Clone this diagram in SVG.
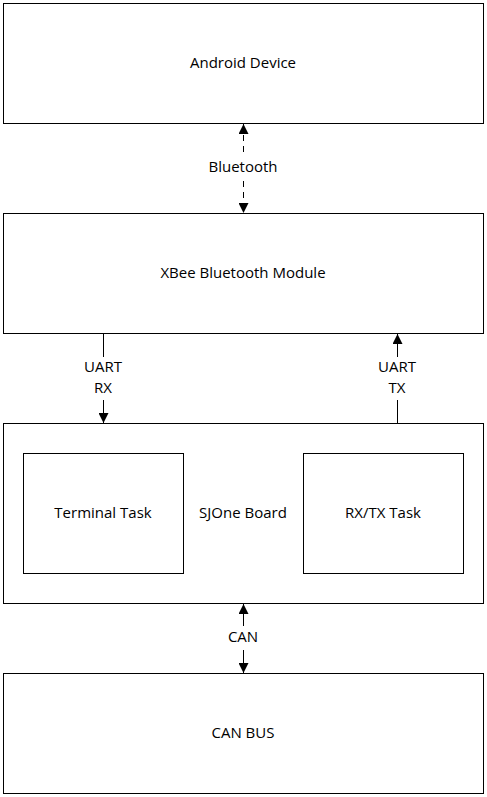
<svg xmlns="http://www.w3.org/2000/svg" width="487" height="797" viewBox="0 0 487 797">
<style>
.box{fill:#fff;stroke:#000;stroke-width:1}
.t{font-family:"Open Sans","Noto Sans","DejaVu Sans",sans-serif;font-size:15px;fill:#000;text-anchor:middle;dominant-baseline:central}
.ln{stroke:#000;stroke-width:1;fill:none}
.dash{stroke-dasharray:6 5}
</style>
<defs>
<marker id="ah" viewBox="0 0 10 10" refX="10" refY="5" markerWidth="10" markerHeight="10" markerUnits="userSpaceOnUse" orient="auto-start-reverse">
<path d="M0,0 L10,5 L0,10 Z" fill="#000"/>
</marker>
</defs>
<rect width="487" height="797" fill="#fff"/>
<g id="android"><rect class="box" x="3.5" y="3.5" width="480" height="120"/><text class="t" x="243" y="62">Android Device</text></g>
<g id="xbee"><rect class="box" x="3.5" y="213.5" width="480" height="120"/><text class="t" x="243" y="272">XBee Bluetooth Module</text></g>
<g id="sjone"><rect class="box" x="3.5" y="423.5" width="480" height="180"/><text class="t" x="243" y="512">SJOne Board</text></g>
<g id="terminal"><rect class="box" x="23.5" y="453.5" width="160" height="120"/><text class="t" x="103" y="512">Terminal Task</text></g>
<g id="rxtx"><rect class="box" x="303.5" y="453.5" width="160" height="120"/><text class="t" x="383" y="512">RX/TX Task</text></g>
<g id="canbus"><rect class="box" x="3.5" y="673.5" width="480" height="120"/><text class="t" x="243" y="732">CAN BUS</text></g>
<g id="connectors">
<path class="ln dash" d="M243.5,124 V155" marker-start="url(#ah)"/>
<path class="ln dash" d="M243.5,181 V213" marker-end="url(#ah)"/>
<text class="t" x="243" y="166">Bluetooth</text>
<path class="ln" d="M103.5,334 V357"/>
<path class="ln" d="M103.5,400 V423" marker-end="url(#ah)"/>
<text class="t" x="103" y="366">UART</text>
<text class="t" x="103" y="387">RX</text>
<path class="ln" d="M397.5,334 V357" marker-start="url(#ah)"/>
<path class="ln" d="M397.5,400 V423"/>
<text class="t" x="397" y="366">UART</text>
<text class="t" x="397" y="387">TX</text>
<path class="ln" d="M243.5,604 V626" marker-start="url(#ah)"/>
<path class="ln" d="M243.5,650 V673" marker-end="url(#ah)"/>
<text class="t" x="243" y="636">CAN</text>
</g>
</svg>
